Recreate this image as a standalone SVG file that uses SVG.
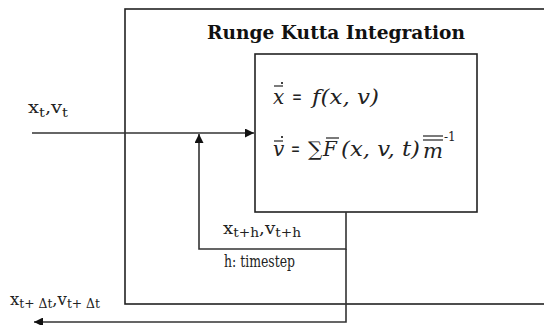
<svg xmlns="http://www.w3.org/2000/svg" width="544" height="325" viewBox="0 0 544 325">
<style>
.box{fill:none;stroke:#222;stroke-width:1.6}
.wire{fill:none;stroke:#333;stroke-width:1.6}
.lbl{font-family:"DejaVu Serif","Liberation Serif",serif;font-size:16px;fill:#222}
.sub{font-size:12px}
.eq{font-family:"DejaVu Serif","Liberation Serif",serif;font-size:20px;fill:#222;font-style:italic}
.up{font-style:normal}
.acc{stroke:#222;stroke-width:1.2}
</style>
<defs>
<marker id="ah" viewBox="0 0 10 10" refX="10" refY="5" markerWidth="12" markerHeight="9" markerUnits="userSpaceOnUse" orient="auto">
<path d="M0,0 L10,5 L0,10 Z" fill="#111"/>
</marker>
</defs>
<rect width="544" height="325" fill="#fff"/>
<g id="rk-integration">
<rect class="box" x="125" y="9" width="440" height="295"/>
<text x="207" y="39" font-family="'DejaVu Serif','Liberation Serif',serif" font-weight="bold" font-size="18" fill="#111" textLength="258" lengthAdjust="spacingAndGlyphs">Runge Kutta Integration</text>
</g>
<g id="equations">
<rect class="box" x="255" y="54" width="222" height="158"/>
<text class="eq" x="273" y="104">x</text>
<text class="eq up" x="292" y="104" textLength="10" lengthAdjust="spacingAndGlyphs">=</text>
<text class="eq" x="312" y="104" textLength="67" lengthAdjust="spacingAndGlyphs">f(x, v)</text>
<circle cx="282" cy="83" r="1"/>
<line class="acc" x1="274" y1="86" x2="283" y2="86"/>
<text class="eq" x="273" y="156">v</text>
<circle cx="282" cy="137" r="1"/>
<line class="acc" x1="274" y1="141" x2="283" y2="141"/>
<text class="eq up" x="291" y="156" textLength="9" lengthAdjust="spacingAndGlyphs">=</text>
<text class="eq up" x="308" y="156" font-size="15">∑</text>
<text class="eq" x="323" y="156">F</text>
<line class="acc" x1="326" y1="138" x2="339" y2="138"/>
<text class="eq" x="341" y="156" textLength="79" lengthAdjust="spacingAndGlyphs">(x, v, t)</text>
<text class="eq" x="423" y="158" textLength="20" lengthAdjust="spacingAndGlyphs">m</text>
<line class="acc" x1="423" y1="136" x2="443" y2="136"/>
<line class="acc" x1="423" y1="140" x2="443" y2="140"/>
<text x="444" y="141" font-family="'DejaVu Serif','Liberation Serif',serif" font-size="12" fill="#222">-1</text>
</g>
<g id="connectors">
<line class="wire" x1="32" y1="133" x2="254" y2="133" marker-end="url(#ah)"/>
<polyline class="wire" points="346,212 346,249 199,249 199,134" marker-end="url(#ah)"/>
<polyline class="wire" points="346,249 346,322 34,322" marker-end="url(#ah)"/>
</g>
<g id="labels">
<text class="lbl" x="28" y="113" textLength="40" lengthAdjust="spacingAndGlyphs">x<tspan class="sub" dy="4">t</tspan><tspan dy="-4">,v</tspan><tspan class="sub" dy="4">t</tspan></text>
<text class="lbl" x="223" y="234" textLength="78" lengthAdjust="spacingAndGlyphs">x<tspan class="sub" dy="3">t+h</tspan><tspan dy="-3">,v</tspan><tspan class="sub" dy="3">t+h</tspan></text>
<text class="lbl" x="224" y="267" font-size="14" textLength="71" lengthAdjust="spacingAndGlyphs">h: timestep</text>
<text class="lbl" x="10" y="305" textLength="90" lengthAdjust="spacingAndGlyphs">x<tspan class="sub" dy="3">t+ Δt</tspan><tspan dy="-3">,v</tspan><tspan class="sub" dy="3">t+ Δt</tspan></text>
</g>
</svg>
